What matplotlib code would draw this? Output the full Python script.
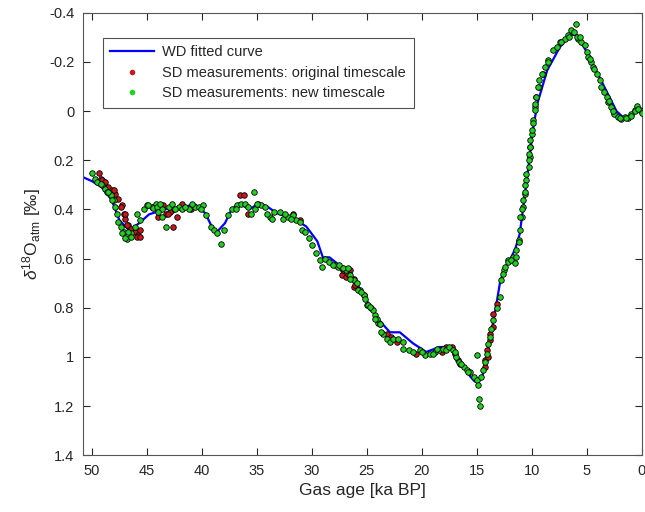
import matplotlib
matplotlib.use('Agg')
import matplotlib.pyplot as plt
from matplotlib.lines import Line2D

plt.rcParams['font.family'] = ['Liberation Sans', 'DejaVu Sans']
plt.rcParams['mathtext.fontset'] = 'custom'
plt.rcParams['mathtext.rm'] = 'Liberation Sans'
plt.rcParams['mathtext.it'] = 'Liberation Sans:italic'

# WD fitted curve (ka BP, permil)
wd_age = [51.0, 50.0, 49.1, 48.2, 47.5, 46.6, 45.7, 44.8, 43.4, 41.8, 40.6, 39.7,
          39.1, 38.6, 37.9, 37.3, 36.6, 35.7, 34.8, 34.0, 33.2, 31.4, 30.5, 29.5,
          29.0, 28.4, 27.7, 26.5, 25.4, 24.1, 22.9, 22.0, 20.8, 19.6, 18.4, 17.5,
          16.5, 15.6, 15.2, 14.7, 14.5, 13.8, 13.2, 12.9, 12.5, 12.0, 11.5, 11.1,
          10.45, 9.9, 9.5, 8.6, 7.45, 6.5, 5.9, 5.0, 3.8, 2.3, 1.7, 1.1, 0.45, 0.0]
wd_d18o = [0.265, 0.285, 0.31, 0.362, 0.444, 0.485, 0.456, 0.42, 0.40, 0.39, 0.38, 0.415,
           0.47, 0.49, 0.456, 0.40, 0.375, 0.40, 0.375, 0.39, 0.415, 0.444, 0.47, 0.53,
           0.595, 0.595, 0.62, 0.66, 0.74, 0.84, 0.90, 0.90, 0.945, 0.98, 0.96, 0.96,
           1.015, 1.08, 1.10, 1.095, 1.08, 0.93, 0.78, 0.70, 0.64, 0.607, 0.56, 0.50,
           0.28, 0.078, -0.03, -0.166, -0.26, -0.31, -0.31, -0.24, -0.134, 0.0, 0.025, 0.02, -0.01, 0.01]

# SD measurements on the original timescale (only where visible)
orig_age = [49.4, 49.2, 48.9, 48.5, 48.2, 47.9, 47.6, 47.3, 47.1, 47.0, 46.7, 46.4,
            46.1, 45.8, 45.6, 44.4, 43.5, 43.3, 42.7, 42.6, 41.8, 36.5, 36.2, 31.7,
            31.1, 27.3, 26.9, 26.5, 26.2, 23.2, 22.8, 22.3, 20.5, 17.8, 17.3, 17.0,
            16.7, 14.3, 14.3, 14.1, 14.0, 13.8, 13.8, 13.5, 13.5, 13.2,
            49.1, 48.8, 48.0, 47.4, 47.0, 46.8, 45.9, 45.6, 42.9, 27.2, 26.7, 26.2,
            26.1, 25.3, 44.0, 43.1, 42.3, 41.0, 35.8, 18.2, 16.5]
orig_d18o = [0.252, 0.275, 0.288, 0.308, 0.322, 0.336, 0.356, 0.383, 0.417, 0.437, 0.464, 0.478,
             0.49, 0.505, 0.485, 0.39, 0.383, 0.417, 0.403, 0.47, 0.376, 0.342, 0.342, 0.417,
             0.444, 0.667, 0.674, 0.647, 0.715, 0.906, 0.92, 0.94, 0.987, 0.96, 0.96, 0.987,
             1.014, 1.04, 1.014, 0.973, 1.0, 0.933, 0.906, 0.878, 0.824, 0.784,
             0.281, 0.288, 0.322, 0.39, 0.417, 0.464, 0.512, 0.512, 0.41, 0.648, 0.661, 0.682,
             0.709, 0.749, 0.43, 0.42, 0.43, 0.40, 0.42, 0.98, 1.03]

# SD measurements on the new timescale
new_age = [50.0, 49.7, 49.55, 49.1, 48.8, 48.6, 48.3, 48.0, 47.9, 47.7, 47.6, 47.4,
           47.1, 46.8, 46.4, 46.1, 45.9, 45.6, 45.3, 45.0, 44.5, 44.2, 43.6, 43.3,
           43.0, 42.7, 42.1, 41.8, 41.2, 40.6, 40.3, 39.9, 39.6, 39.2, 38.9, 38.6,
           38.3, 38.0, 37.6, 37.3, 36.8, 36.4, 36.1, 35.8, 35.3, 35.2, 34.9, 35.5,
           34.6, 34.3, 33.8, 33.4, 32.9, 32.6, 32.2, 31.7, 31.4, 31.1, 30.9, 30.6,
           30.3, 30.0, 29.6, 29.3, 29.1, 28.8, 28.4, 27.9, 27.6, 27.3, 26.9, 26.5,
           26.2, 25.9, 25.6, 25.3, 25.0, 24.6, 24.3, 24.0, 24.4, 24.1, 23.8, 23.5,
           23.2, 22.9, 22.6, 22.2, 21.7, 21.7, 21.2, 20.8, 20.2, 19.7, 19.3, 18.8,
           18.4, 18.1, 17.8, 17.5, 17.2, 16.9, 16.6, 16.2, 15.9, 15.6, 15.3, 15.0,
           15.0, 14.9, 14.8, 14.7, 14.6, 14.4, 14.3, 14.1, 14.0, 13.8, 13.7, 13.5,
           13.2, 12.9, 12.8, 12.5, 12.2, 11.7, 11.4, 11.2, 11.1, 10.9, 10.8, 10.6,
           10.5, 10.3, 10.2, 10.15, 10.0, 9.9, 9.7, 9.6, 9.3, 9.0, 8.5, 8.1,
           7.75, 7.45, 7.0, 6.7, 6.4, 6.0, 5.8, 5.5, 5.2, 5.0, 4.9, 4.6,
           4.4, 4.1, 3.8, 3.7, 3.4, 3.2, 3.1, 2.8, 2.5, 2.2, 1.85, 1.55,
           1.25, 0.94, 0.64, 0.42, 0.18, 0.0,
           # denser clusters
           49.2, 48.5, 48.2, 47.3, 47.0, 46.7, 46.4, 44.9, 44.4, 44.1, 43.6,
           28.1, 27.5, 27.15, 26.7, 26.5, 25.8, 25.5, 25.2, 24.9, 24.7, 24.3, 23.8, 23.7,
           12.6, 12.45, 12.15, 11.85, 11.5, 11.4, 11.2, 11.1, 10.9, 10.8, 10.6, 10.6,
           10.5, 10.3, 10.3, 10.2, 10.2, 10.0, 9.9, 9.7, 9.7, 9.6, 9.4, 9.3, 9.1, 8.8, 8.5,
           7.3, 6.6, 6.2, 5.9, 5.6, 4.7, 4.3, 3.0, 2.6, 2.0, 1.4, 1.0, 0.6, 0.3,
           44.0, 43.8, 42.4, 41.5, 40.9, 40.1, 36.9, 35.0, 34.1, 33.6, 32.4, 31.9,
           20.0, 19.0, 18.6, 17.0, 16.4, 15.8]
new_d18o = [0.252, 0.275, 0.288, 0.30, 0.315, 0.329, 0.342, 0.363, 0.39, 0.417, 0.45, 0.47,
            0.49, 0.52, 0.498, 0.47, 0.417, 0.444, 0.40, 0.383, 0.39, 0.376, 0.397, 0.47,
            0.39, 0.376, 0.39, 0.40, 0.40, 0.39, 0.39, 0.383, 0.424, 0.47, 0.485, 0.498,
            0.54, 0.485, 0.424, 0.40, 0.383, 0.376, 0.376, 0.39, 0.33, 0.40, 0.376, 0.417,
            0.383, 0.39, 0.43, 0.41, 0.41, 0.437, 0.43, 0.423, 0.444, 0.45, 0.484, 0.49,
            0.518, 0.545, 0.579, 0.606, 0.634, 0.60, 0.613, 0.627, 0.634, 0.64, 0.647, 0.667,
            0.688, 0.70, 0.728, 0.749, 0.79, 0.80, 0.83, 0.864, 0.81, 0.845, 0.865, 0.906,
            0.926, 0.94, 0.926, 0.926, 0.94, 0.967, 0.973, 0.98, 0.973, 0.994, 0.987, 0.98,
            0.973, 0.967, 0.973, 0.96, 0.973, 1.0, 1.02, 1.04, 1.055, 1.06, 1.08, 0.994,
            1.095, 1.116, 1.17, 1.20, 1.08, 1.055, 1.02, 0.987, 0.946, 0.92, 0.885, 0.85,
            0.80, 0.756, 0.689, 0.648, 0.607, 0.594, 0.567, 0.526, 0.485, 0.431, 0.39, 0.336,
            0.282, 0.228, 0.187, 0.146, 0.092, 0.038, -0.016, -0.057, -0.098, -0.152, -0.206, -0.247,
            -0.26, -0.28, -0.294, -0.308, -0.328, -0.353, -0.294, -0.28, -0.267, -0.24, -0.22, -0.2,
            -0.18, -0.152, -0.125, -0.098, -0.077, -0.057, -0.037, -0.016, 0.011, 0.024, 0.031, 0.024,
            0.027, 0.013, -0.003, -0.019, -0.006, 0.008,
            0.295, 0.328, 0.362, 0.498, 0.518, 0.491, 0.512, 0.383, 0.396, 0.39, 0.43,
            0.627, 0.627, 0.64, 0.64, 0.682, 0.729, 0.736, 0.763, 0.79, 0.797, 0.844, 0.865, 0.90,
            0.661, 0.634, 0.613, 0.607, 0.62, 0.593, 0.532, 0.43, 0.40, 0.363, 0.329, 0.30,
            0.254, 0.20, 0.173, 0.146, 0.118, 0.078, 0.05, -0.004, -0.03, -0.058, -0.098, -0.126, -0.153, -0.18, -0.2,
            -0.28, -0.30, -0.32, -0.30, -0.30, -0.21, -0.17, -0.04, 0.0, 0.03, 0.03, 0.02, 0.0, -0.01,
            0.41, 0.38, 0.40, 0.39, 0.38, 0.40, 0.40, 0.38, 0.42, 0.44, 0.42, 0.44,
            0.98, 0.99, 0.97, 0.98, 1.03, 1.06]

red = '#c8181c'
green = '#22d022'
axis_gray = '#262626'

fig = plt.figure(figsize=(6.45, 5.12), dpi=100)
ax = fig.add_axes([0.128, 0.111, 0.867, 0.864])

ax.plot(wd_age, wd_d18o, color='#0000ff', lw=1.6, zorder=2)
ax.scatter(orig_age, orig_d18o, s=16, c=red, edgecolors='black', linewidths=0.6, zorder=3)
ax.scatter(new_age, new_d18o, s=16, c=green, edgecolors='black', linewidths=0.6, zorder=4)

ax.set_xlim(50.85, 0)
ax.set_ylim(1.4, -0.4)
ax.set_xticks(range(0, 51, 5))
yt = [-0.4, -0.2, 0, 0.2, 0.4, 0.6, 0.8, 1, 1.2, 1.4]
ax.set_yticks(yt)
ax.set_yticklabels(['%g' % v for v in yt])

ax.tick_params(direction='in', top=True, right=True, length=5, width=0.8,
               labelsize=10.5, colors=axis_gray, pad=6)
for sp in ax.spines.values():
    sp.set_color('#555555')
    sp.set_linewidth(0.8)

ax.set_xlabel('Gas age [ka BP]', fontsize=12.5, color=axis_gray, labelpad=4)
ax.set_ylabel(r'$\delta^{18}$O$_{\rm atm}$ [‰]', fontsize=12.5, color=axis_gray, labelpad=4)

handles = [
    Line2D([], [], color='#0000ff', lw=1.6),
    Line2D([], [], ls='none', marker='o', ms=4, mfc=red, mec='none'),
    Line2D([], [], ls='none', marker='o', ms=4, mfc=green, mec='none'),
]
labels = ['WD fitted curve', 'SD measurements: original timescale',
          'SD measurements: new timescale']
leg = ax.legend(handles, labels, loc='upper left', bbox_to_anchor=(0.036, 0.943),
                borderaxespad=0, fontsize=10.5, frameon=True, fancybox=False,
                handlelength=3.0, labelspacing=0.45, borderpad=0.5, handletextpad=0.6)
leg.get_frame().set_edgecolor(axis_gray)
leg.get_frame().set_linewidth(0.8)
for t in leg.get_texts():
    t.set_color(axis_gray)

fig.savefig('out.png', dpi=100)
